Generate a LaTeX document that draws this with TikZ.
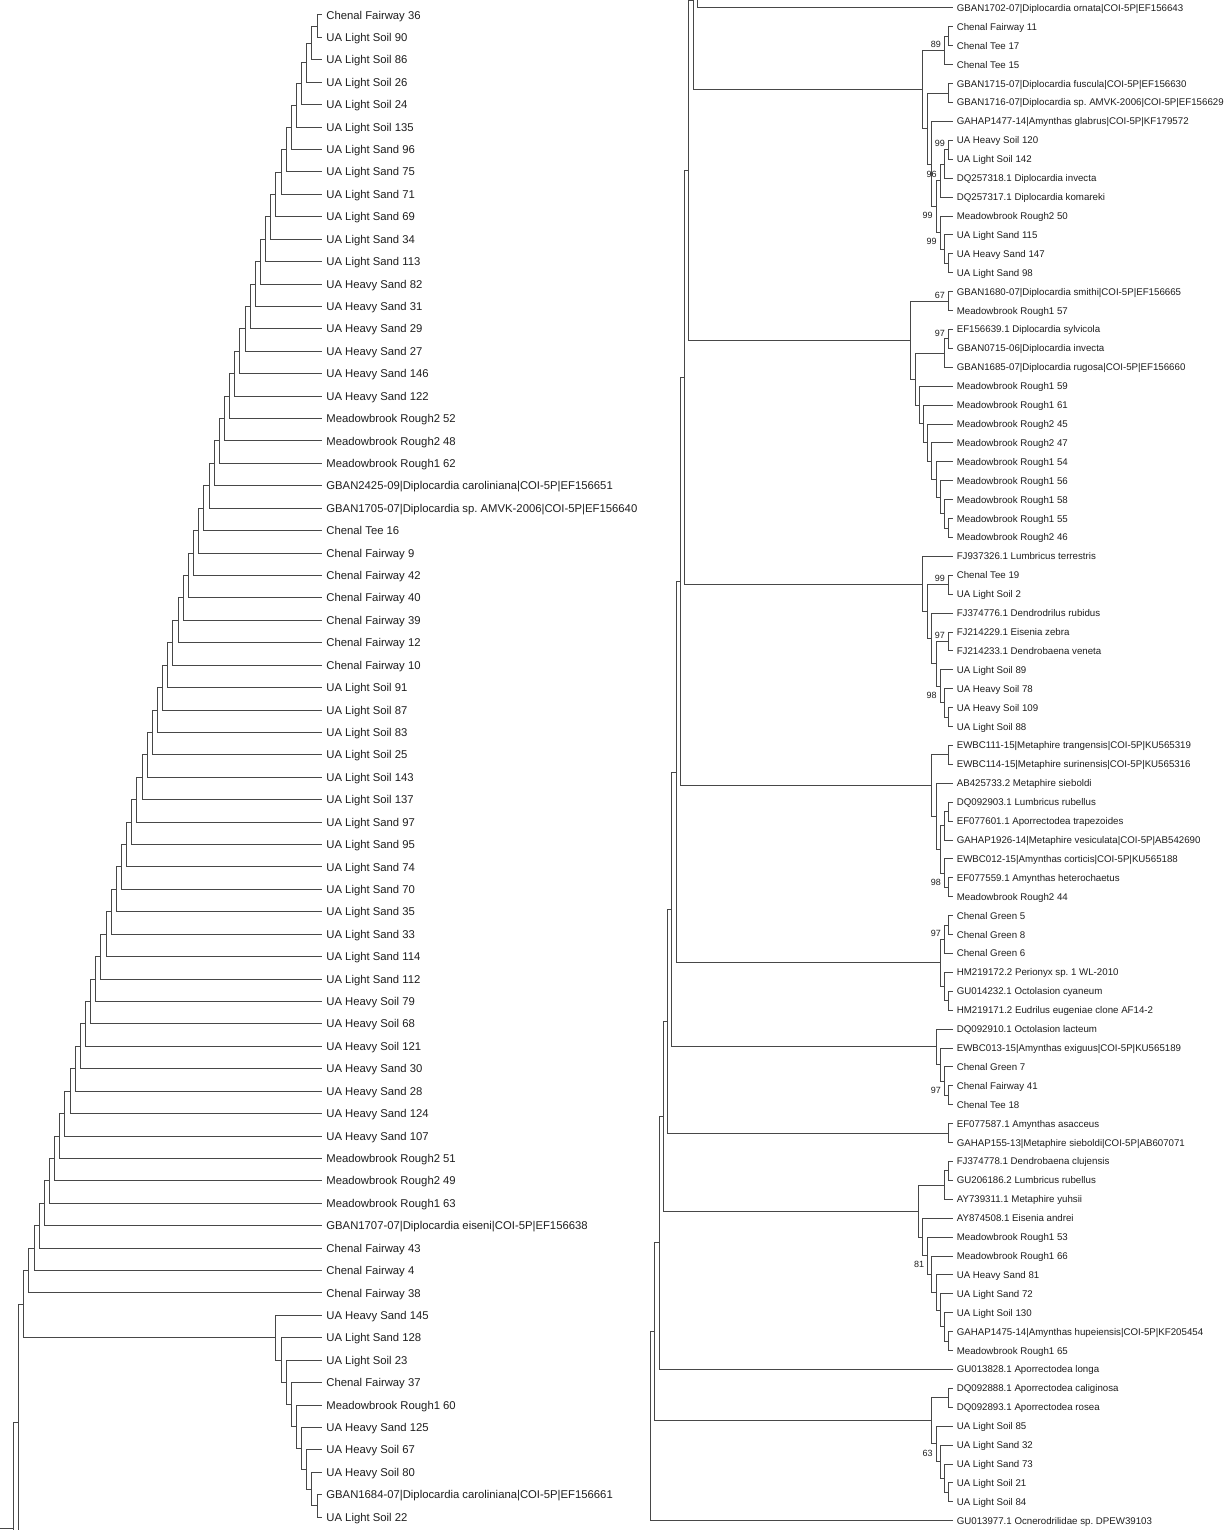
\documentclass[tikz,border=0pt]{standalone}
\usepackage{fontspec}
\setmainfont{Liberation Sans}
\usetikzlibrary{calc}
\frenchspacing
\tikzset{
  br/.style={draw=black!72, line width=0.5pt},
  lleaf/.style={anchor=west, inner xsep=2pt, inner ysep=0pt, font=\fontsize{5.65pt}{6pt}\selectfont, text height=4.05pt, text depth=0pt, text=black!88},
  rleaf/.style={anchor=west, inner xsep=1.7pt, inner ysep=0pt, font=\fontsize{4.85pt}{5pt}\selectfont, text height=3.45pt, text depth=0pt, text=black!88},
  bs/.style={inner sep=0pt, font=\fontsize{4.5pt}{5pt}\selectfont, text=black!88},
}
\newcommand\trnode[4]{%
  \path let \p1=($(#3)!.5!(#4)$) in coordinate (#1) at ({#2},\y1);
  \draw[br] (#1) |- (#3);
  \draw[br] (#1) |- (#4);
}
\begin{document}
\frenchspacing
\begin{tikzpicture}[x=0.5pt,y=-0.5pt]
\useasboundingbox[fill=white] (0,0) rectangle (1225,1530);
\clip (0,0) rectangle (1225,1530);

% ---------------- left panel leaves ----------------
\foreach \t [count=\i from 0] in {Chenal Fairway 36, UA Light Soil 90, UA Light Soil 86, UA Light Soil 26, UA Light Soil 24, UA Light Soil 135, UA Light Sand 96, UA Light Sand 75, UA Light Sand 71, UA Light Sand 69, UA Light Sand 34, UA Light Sand 113, UA Heavy Sand 82, UA Heavy Sand 31, UA Heavy Sand 29, UA Heavy Sand 27, UA Heavy Sand 146, UA Heavy Sand 122, Meadowbrook Rough2 52, Meadowbrook Rough2 48, Meadowbrook Rough1 62, GBAN2425-09|Diplocardia caroliniana|COI-5P|EF156651, GBAN1705-07|Diplocardia sp. AMVK-2006|COI-5P|EF156640, Chenal Tee 16, Chenal Fairway 9, Chenal Fairway 42, Chenal Fairway 40, Chenal Fairway 39, Chenal Fairway 12, Chenal Fairway 10, UA Light Soil 91, UA Light Soil 87, UA Light Soil 83, UA Light Soil 25, UA Light Soil 143, UA Light Soil 137, UA Light Sand 97, UA Light Sand 95, UA Light Sand 74, UA Light Sand 70, UA Light Sand 35, UA Light Sand 33, UA Light Sand 114, UA Light Sand 112, UA Heavy Soil 79, UA Heavy Soil 68, UA Heavy Soil 121, UA Heavy Sand 30, UA Heavy Sand 28, UA Heavy Sand 124, UA Heavy Sand 107, Meadowbrook Rough2 51, Meadowbrook Rough2 49, Meadowbrook Rough1 63, GBAN1707-07|Diplocardia eiseni|COI-5P|EF156638, Chenal Fairway 43, Chenal Fairway 4, Chenal Fairway 38, UA Heavy Sand 145, UA Light Sand 128, UA Light Soil 23, Chenal Fairway 37, Meadowbrook Rough1 60, UA Heavy Sand 125, UA Heavy Soil 67, UA Heavy Soil 80, GBAN1684-07|Diplocardia caroliniana|COI-5P|EF156661, UA Light Soil 22}
  {\node[lleaf] (lf\i) at (322,{15+\i*22.42}) {\t};}

% left main ladder
\trnode{L1}{317}{lf0}{lf1}
\foreach \k in {2,...,57}{%
  \pgfmathtruncatemacro\pk{\k-1}%
  \trnode{L\k}{317-(\k-1)*5.143}{L\pk}{lf\k}}
% left sub-ladder
\trnode{S8}{317}{lf66}{lf67}
\foreach \m in {7,6,...,0}{%
  \pgfmathtruncatemacro\nm{\m+1}%
  \pgfmathtruncatemacro\lfi{58+\m}%
  \trnode{S\m}{317-(8-\m)*5.143}{lf\lfi}{S\nm}}
\trnode{L58}{23.85}{L57}{S0}
\coordinate (offA) at (40,1540);
\trnode{L59}{18.7}{L58}{offA}
\coordinate (offB) at (30,1634);
\trnode{L60}{13.6}{L59}{offB}
\path (L60) ++(-16,0) coordinate (Lin);
\draw[br] (Lin) -- (L60);

% ---------------- right panel leaves ----------------
\foreach \t [count=\i from 0] in {GBAN1702-07|Diplocardia ornata|COI-5P|EF156643, Chenal Fairway 11, Chenal Tee 17, Chenal Tee 15, GBAN1715-07|Diplocardia fuscula|COI-5P|EF156630, GBAN1716-07|Diplocardia sp. AMVK-2006|COI-5P|EF156629, GAHAP1477-14|Amynthas glabrus|COI-5P|KF179572, UA Heavy Soil 120, UA Light Soil 142, DQ257318.1 Diplocardia invecta, DQ257317.1 Diplocardia komareki, Meadowbrook Rough2 50, UA Light Sand 115, UA Heavy Sand 147, UA Light Sand 98, GBAN1680-07|Diplocardia smithi|COI-5P|EF156665, Meadowbrook Rough1 57, EF156639.1 Diplocardia sylvicola, GBAN0715-06|Diplocardia invecta, GBAN1685-07|Diplocardia rugosa|COI-5P|EF156660, Meadowbrook Rough1 59, Meadowbrook Rough1 61, Meadowbrook Rough2 45, Meadowbrook Rough2 47, Meadowbrook Rough1 54, Meadowbrook Rough1 56, Meadowbrook Rough1 58, Meadowbrook Rough1 55, Meadowbrook Rough2 46, FJ937326.1 Lumbricus terrestris, Chenal Tee 19, UA Light Soil 2, FJ374776.1 Dendrodrilus rubidus, FJ214229.1 Eisenia zebra, FJ214233.1 Dendrobaena veneta, UA Light Soil 89, UA Heavy Soil 78, UA Heavy Soil 109, UA Light Soil 88, EWBC111-15|Metaphire trangensis|COI-5P|KU565319, EWBC114-15|Metaphire surinensis|COI-5P|KU565316, AB425733.2 Metaphire sieboldi, DQ092903.1 Lumbricus rubellus, EF077601.1 Aporrectodea trapezoides, GAHAP1926-14|Metaphire vesiculata|COI-5P|AB542690, EWBC012-15|Amynthas corticis|COI-5P|KU565188, EF077559.1 Amynthas heterochaetus, Meadowbrook Rough2 44, Chenal Green 5, Chenal Green 8, Chenal Green 6, HM219172.2 Perionyx sp. 1 WL-2010, GU014232.1 Octolasion cyaneum, HM219171.2 Eudrilus eugeniae clone AF14-2, DQ092910.1 Octolasion lacteum, EWBC013-15|Amynthas exiguus|COI-5P|KU565189, Chenal Green 7, Chenal Fairway 41, Chenal Tee 18, EF077587.1 Amynthas asacceus, GAHAP155-13|Metaphire sieboldi|COI-5P|AB607071, FJ374778.1 Dendrobaena clujensis, GU206186.2 Lumbricus rubellus, AY739311.1 Metaphire yuhsii, AY874508.1 Eisenia andrei, Meadowbrook Rough1 53, Meadowbrook Rough1 66, UA Heavy Sand 81, UA Light Sand 72, UA Light Soil 130, GAHAP1475-14|Amynthas hupeiensis|COI-5P|KF205454, Meadowbrook Rough1 65, GU013828.1 Aporrectodea longa, DQ092888.1 Aporrectodea caliginosa, DQ092893.1 Aporrectodea rosea, UA Light Soil 85, UA Light Sand 32, UA Light Sand 73, UA Light Soil 21, UA Light Soil 84, GU013977.1 Ocnerodrilidae sp. DPEW39103}
  {\node[rleaf] (rf\i) at (953,{8+\i*18.91}) {\t};}

% clade 1
\trnode{ca}{948.3}{rf1}{rf2}
\trnode{cb}{944.3}{ca}{rf3}
\trnode{cc}{948.3}{rf4}{rf5}
\trnode{cd}{948.3}{rf7}{rf8}
\trnode{ce}{944.3}{cd}{rf9}
\trnode{cf}{940}{ce}{rf10}
\trnode{cg}{948.3}{rf13}{rf14}
\trnode{ch}{944.3}{rf12}{cg}
\trnode{ci}{940}{rf11}{ch}
\trnode{cj}{936}{cf}{ci}
\trnode{ck}{931.7}{rf6}{cj}
\trnode{cl}{927.7}{cc}{ck}
\trnode{K1}{922.7}{cb}{cl}
% clade 2
\trnode{q15}{948.3}{rf15}{rf16}
\trnode{q17}{948.3}{rf17}{rf18}
\trnode{q19}{944.3}{q17}{rf19}
\trnode{m8}{948.3}{rf27}{rf28}
\trnode{m7}{944.3}{rf26}{m8}
\trnode{m6}{940}{rf25}{m7}
\trnode{m5}{936}{rf24}{m6}
\trnode{m4}{931.7}{rf23}{m5}
\trnode{m3}{927.7}{rf22}{m4}
\trnode{m2}{923.3}{rf21}{m3}
\trnode{m1}{919.3}{rf20}{m2}
\trnode{q20}{915}{q19}{m1}
\trnode{K2}{910}{q15}{q20}
% clade 3
\trnode{u30}{948.3}{rf30}{rf31}
\trnode{u33}{948.3}{rf33}{rf34}
\trnode{t3}{948.3}{rf37}{rf38}
\trnode{t2}{944.3}{rf36}{t3}
\trnode{t1}{940}{rf35}{t2}
\trnode{r3}{936}{u33}{t1}
\trnode{q3}{931.7}{rf32}{r3}
\trnode{p3}{927.7}{u30}{q3}
\trnode{K3}{922.7}{rf29}{p3}
% clade 4
\trnode{v39}{948.3}{rf39}{rf40}
\trnode{w42}{948.3}{rf42}{rf43}
\trnode{w44}{944.3}{w42}{rf44}
\trnode{x46}{948.3}{rf46}{rf47}
\trnode{x45}{944.3}{rf45}{x46}
\trnode{v4}{940}{w44}{x45}
\trnode{u4}{936}{rf41}{v4}
\trnode{K4}{931.7}{v39}{u4}
% clade 5
\trnode{y48}{948.3}{rf48}{rf49}
\trnode{y50}{944.3}{y48}{rf50}
\trnode{y52}{948.3}{rf52}{rf53}
\trnode{y51}{944.3}{rf51}{y52}
\trnode{K5}{940}{y50}{y51}
% clade 6
\trnode{o57}{948.3}{rf57}{rf58}
\trnode{o56}{944.3}{rf56}{o57}
\trnode{o55}{940}{rf55}{o56}
\trnode{K6}{936}{rf54}{o55}
% clade 7
\trnode{K7}{948.3}{rf59}{rf60}
% clade 8
\trnode{z61}{948.3}{rf61}{rf62}
\trnode{z63}{944.3}{z61}{rf63}
\trnode{z7}{948.3}{rf70}{rf71}
\trnode{z6}{944.3}{rf69}{z7}
\trnode{z5}{940}{rf68}{z6}
\trnode{z4}{936}{rf67}{z5}
\trnode{z3}{931.7}{rf66}{z4}
\trnode{z2}{927.7}{rf65}{z3}
\trnode{z1}{922.7}{rf64}{z2}
\trnode{K8}{918.3}{z63}{z1}
% clade 10
\trnode{s73}{948.3}{rf73}{rf74}
\trnode{s78}{948.3}{rf78}{rf79}
\trnode{s77}{944.3}{rf77}{s78}
\trnode{s76}{940}{rf76}{s77}
\trnode{s75}{936}{rf75}{s76}
\trnode{K10}{931.7}{s73}{s75}
% spine
\coordinate (top0) at (720,-186);
\trnode{N0}{697.3}{top0}{rf0}
\trnode{N1}{693.3}{N0}{K1}
\trnode{N2}{688.5}{N1}{K2}
\trnode{N3}{684.3}{N2}{K3}
\trnode{N4}{680}{N3}{K4}
\trnode{N5}{676}{N4}{K5}
\trnode{N6}{671.7}{N5}{K6}
\trnode{N7}{667.7}{N6}{K7}
\trnode{N8}{663.3}{N7}{K8}
\trnode{N9}{659}{N8}{rf72}
\trnode{N10}{654.3}{N9}{K10}
\trnode{N11}{650}{N10}{rf80}

% bootstrap values
\node[bs] at ($(cb)+(-8.5,-6)$) {89};
\node[bs] at ($(cd)+(-8.5,-6)$) {99};
\node[bs] at ($(cf)+(-8.5,-6)$) {96};
\node[bs] at ($(cj)+(-8.5,9)$) {99};
\node[bs] at ($(ci)+(-8.5,9)$) {99};
\node[bs] at ($(q15)+(-8.5,-6)$) {67};
\node[bs] at ($(q17)+(-8.5,-6)$) {97};
\node[bs] at ($(u30)+(-8.5,-6)$) {99};
\node[bs] at ($(u33)+(-8.5,-6)$) {97};
\node[bs] at ($(t1)+(-8.5,9)$) {98};
\node[bs] at ($(x45)+(-8.5,9)$) {98};
\node[bs] at ($(y50)+(-8.5,-6)$) {97};
\node[bs] at ($(o56)+(-8.5,9)$) {97};
\node[bs] at ($(z2)+(-8.5,9)$) {81};
\node[bs] at ($(s75)+(-8.5,9)$) {63};
\end{tikzpicture}
\end{document}
